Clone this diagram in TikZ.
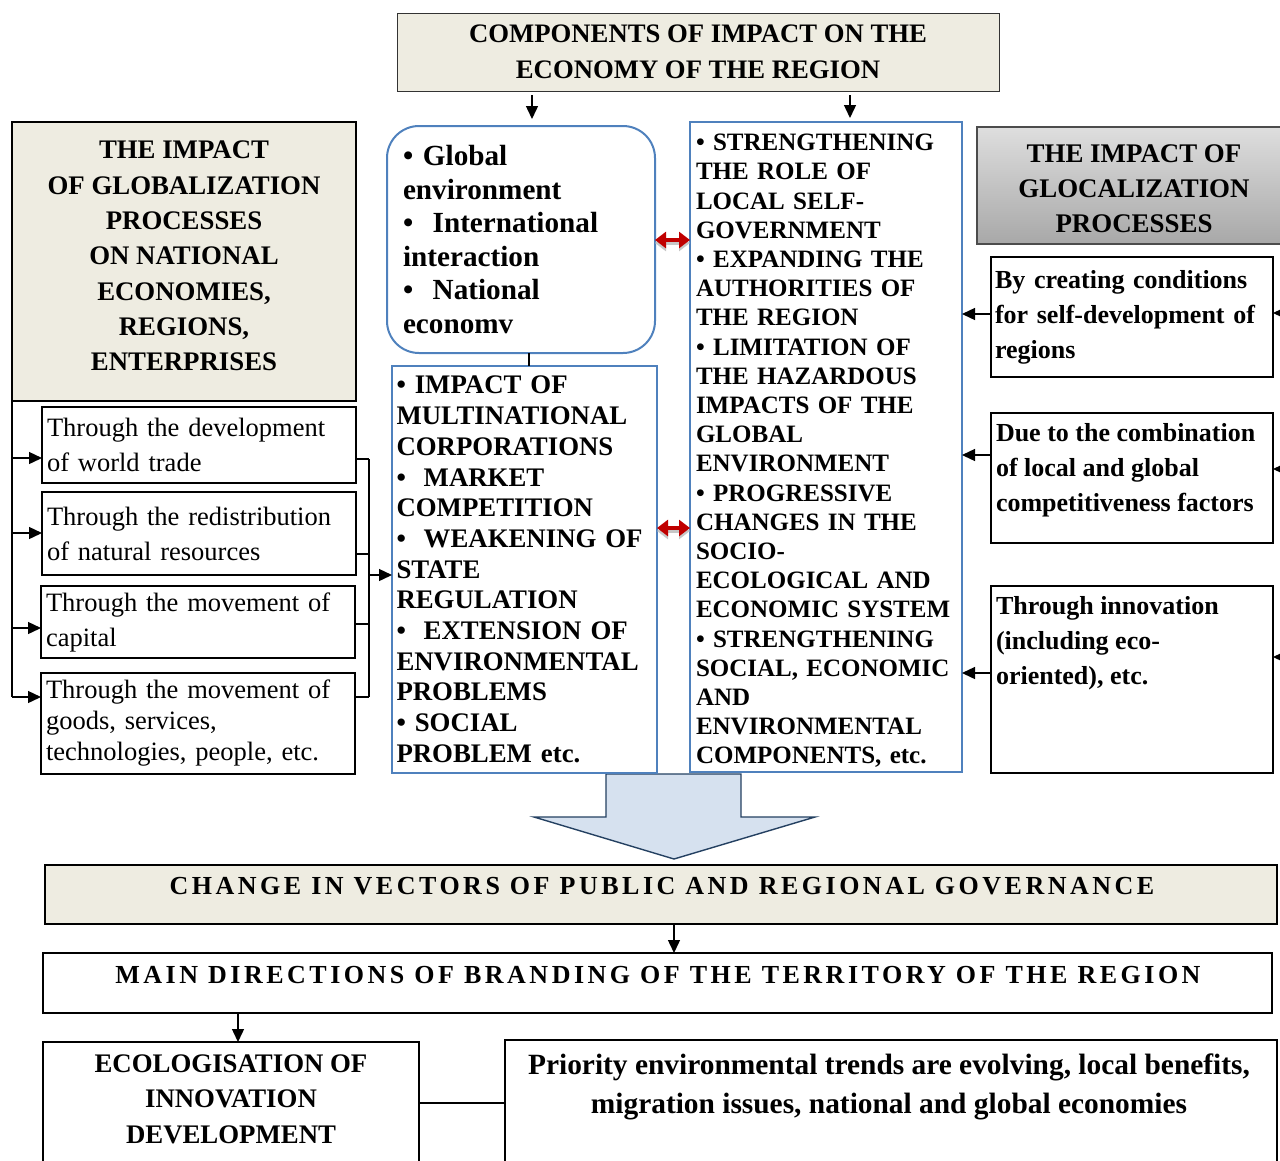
\documentclass[tikz,border=0pt]{standalone}
\usepackage{fontspec}
\setmainfont{Liberation Serif}
\usetikzlibrary{arrows.meta,calc}
\definecolor{beige}{RGB}{238,236,225}
\definecolor{wblue}{RGB}{79,129,189}
\definecolor{dred}{RGB}{192,0,0}
\definecolor{arrfill}{RGB}{214,225,239}
\definecolor{navy}{RGB}{36,64,97}
\definecolor{hdtop}{RGB}{222,222,222}
\definecolor{hdbot}{RGB}{168,168,168}
\begin{document}
\begin{tikzpicture}[x=1pt,y=-1pt,
  every node/.style={inner sep=0pt,outer sep=0pt},
  box/.style={draw=black,line width=1.8pt,rectangle,anchor=north west},
  bbox/.style={draw=wblue,line width=1.8pt,rectangle,anchor=north west},
  lw/.style={line width=1.4pt},
  arr/.style={line width=1.4pt,-{Triangle[length=13pt,width=12pt]}},
  redarr/.style={draw=dred,line width=3.2pt,{Triangle[length=11pt,width=16pt]}-{Triangle[length=11pt,width=16pt]}},
  shadarr/.style={draw=black!22,line width=3.2pt,{Triangle[length=11pt,width=16pt]}-{Triangle[length=11pt,width=16pt]}},
  spaced/.style={font=\bfseries\fontsize{26}{30}\selectfont\addfontfeature{LetterSpace=13.5}}
]
\useasboundingbox (0,0) rectangle (1280,1160);
\clip (0,0) rectangle (1280,1160);

% block arrow
\draw[fill=arrfill,draw=navy,line width=1.4pt,line join=miter]
  (606,774) -- (606,817) -- (534,817) -- (674,859) -- (815,817) -- (741,817) -- (741,774) -- cycle;

% title
\node[box,draw=black!80,line width=1pt,fill=beige,minimum width=602pt,minimum height=78pt,align=center,
  font=\bfseries\fontsize{26.7}{36}\selectfont] (title) at (397,13)
  {COMPONENTS OF IMPACT ON THE\\ECONOMY OF THE REGION};

% left big box
\node[box,line width=2pt,fill=beige,minimum width=344pt,minimum height=279pt] (glob) at (12,122) {};
\node[align=center,font=\bfseries\fontsize{26.8}{35.3}\selectfont] (globt) at (184,256)
  {THE IMPACT\\OF GLOBALIZATION\\PROCESSES\\ON NATIONAL\\ECONOMIES,\\REGIONS,\\ENTERPRISES};

% rounded box
\node[bbox,rounded corners=32pt,line width=2pt,minimum width=268pt,minimum height=227pt,text width=236pt,align=left,
  font=\bfseries\fontsize{29.2}{33.6}\selectfont] (env) at (387,126)
  {• Global\\environment\\•\ \ International\\interaction\\•\ \ National\\economv};

% center-left box
\node[bbox,fill=white,minimum width=265pt,minimum height=407pt,text width=256pt,align=left,
  font=\bfseries\fontsize{26.8}{30.7}\selectfont] (cl) at (392,366)
  {• IMPACT OF\\MULTINATIONAL\\CORPORATIONS\\•\ \ MARKET\\COMPETITION\\•\ \ WEAKENING OF\\STATE\\REGULATION\\•\ \ EXTENSION OF\\ENVIRONMENTAL\\PROBLEMS\\• SOCIAL\\PROBLEM etc.};

% right-center box
\node[bbox,fill=white,minimum width=272pt,minimum height=650pt] (rc) at (690,122) {};
\node[anchor=west,text width=262pt,align=left,
  font=\bfseries\fontsize{25}{29.2}\selectfont] (rct) at (696,451)
  {• STRENGTHENING\\THE ROLE OF\\LOCAL SELF-\\GOVERNMENT\\• EXPANDING THE\\AUTHORITIES OF\\THE REGION\\• LIMITATION OF\\THE HAZARDOUS\\IMPACTS OF THE\\GLOBAL\\ENVIRONMENT\\• PROGRESSIVE\\CHANGES IN THE\\SOCIO-\\ECOLOGICAL AND\\ECONOMIC SYSTEM\\• STRENGTHENING\\SOCIAL, ECONOMIC\\AND\\ENVIRONMENTAL\\COMPONENTS, etc.};

% left sub boxes
\node[box,minimum width=314pt,minimum height=76pt,text width=304pt,align=left,
  font=\fontsize{26.5}{35}\selectfont] (A) at (42,407)
  {Through the development\\of world trade};
\node[box,minimum width=314pt,minimum height=83pt,text width=304pt,align=left,
  font=\fontsize{26.5}{35}\selectfont] (B) at (42,492)
  {Through the redistribution\\of natural resources};
\node[box,minimum width=314pt,minimum height=72pt,text width=304pt,align=left,
  font=\fontsize{26.5}{35}\selectfont] (C) at (41,586)
  {Through the movement of\\capital};
\node[box,minimum width=314pt,minimum height=101pt,text width=304pt,align=left,
  font=\fontsize{26.5}{31}\selectfont] (D) at (41,673)
  {Through the movement of\\goods, services,\\technologies, people, etc.};

% glocalization header
\node[box,draw=black!70,line width=1.2pt,top color=hdtop,bottom color=hdbot,minimum width=314pt,minimum height=117pt] (gloc) at (977,127) {};
\node[align=center,font=\bfseries\fontsize{26.9}{35}\selectfont] (gloct) at (1134,189)
  {THE IMPACT OF\\GLOCALIZATION\\PROCESSES};

% right boxes
\node[box,minimum width=282pt,minimum height=120pt,text width=274pt,align=left,
  font=\bfseries\fontsize{26}{35}\selectfont] (R1) at (991,257)
  {By creating conditions\\for self-development of\\regions};
\node[box,minimum width=282pt,minimum height=130pt] (R2) at (991,413) {};
\node[anchor=north west,align=left,font=\bfseries\fontsize{26}{35}\selectfont] (r2t) at (996,423)
  {Due to the combination\\of local and global\\competitiveness factors};
\node[box,minimum width=282pt,minimum height=187pt] (R3) at (991,586) {};
\node[anchor=north west,align=left,font=\bfseries\fontsize{26}{35}\selectfont] (r3t) at (996,596)
  {Through innovation\\(including eco-\\oriented), etc.};

% change box
\node[box,line width=2.4pt,fill=beige,minimum width=1232pt,minimum height=59pt] (chg) at (45,865) {};
\node[spaced] (chgt) at (662,886) {CHANGE IN VECTORS OF PUBLIC AND REGIONAL GOVERNANCE};

% main box
\node[box,line width=2.4pt,minimum width=1229pt,minimum height=60pt] (mainb) at (43,953) {};
\node[spaced] (maint) at (658,975) {MAIN DIRECTIONS OF BRANDING OF THE TERRITORY OF THE REGION};

% bottom boxes
\node[box,line width=2.2pt,minimum width=376pt,minimum height=160pt] (eco) at (43,1042) {};
\node[align=center,font=\bfseries\fontsize{26.8}{35.5}\selectfont] (ecot) at (231,1099)
  {ECOLOGISATION OF\\INNOVATION\\DEVELOPMENT};
\node[box,line width=2.2pt,minimum width=772pt,minimum height=160pt] (prio) at (505,1040) {};
\node[align=center,font=\bfseries\fontsize{29.4}{39}\selectfont] (priot) at (889,1087)
  {Priority environmental trends are evolving, local benefits,\\migration issues, national and global economies};

% coordinates
\coordinate (xa1) at (532,0);
\coordinate (xa2) at (850,0);
\coordinate (xl) at (529,0);
\coordinate (yr1) at (0,240);
\coordinate (yr2) at (0,528);
\coordinate (ya) at (0,458);
\coordinate (yb) at (0,533);
\coordinate (yc) at (0,628);
\coordinate (yd) at (0,697);
\coordinate (sa) at (0,459);
\coordinate (sb) at (0,554);
\coordinate (sc) at (0,624);
\coordinate (sd) at (0,697);
\coordinate (bx) at (369,575);
\coordinate (y1) at (0,314);
\coordinate (y2) at (0,455);
\coordinate (y3) at (0,673);
\coordinate (e1) at (1300,313);
\coordinate (e2) at (1300,469);
\coordinate (e3) at (1300,657);
\coordinate (xc) at (674,0);
\coordinate (xe) at (238,0);
\coordinate (ye) at (0,1103);

% top arrows
\draw[arr,shorten <=4pt,shorten >=7pt] (title.south -| xa1) -- (env.north -| xa1);
\draw[arr,shorten <=4pt,shorten >=4pt] (title.south -| xa2) -- (rc.north -| xa2);
\draw[line width=1.2pt] (env.south -| xl) -- (cl.north -| xl);

% red double arrows
\draw[shadarr,transform canvas={yshift=-3pt}] (env.east |- yr1) -- (rc.west |- yr1);
\draw[redarr] (env.east |- yr1) -- (rc.west |- yr1);
\draw[shadarr,transform canvas={yshift=-3pt}] (cl.east |- yr2) -- (rc.west |- yr2);
\draw[redarr] (cl.east |- yr2) -- (rc.west |- yr2);

% left bracket
\draw[lw] (glob.south west) -- (glob.south west |- yd);
\draw[arr] (glob.south west |- ya) -- (A.west |- ya);
\draw[arr] (glob.south west |- yb) -- (B.west |- yb);
\draw[arr] (glob.south west |- yc) -- (C.west |- yc);
\draw[arr] (glob.south west |- yd) -- (D.west |- yd);

% right bracket
\draw[lw] (A.east |- sa) -- (bx |- sa);
\draw[lw] (B.east |- sb) -- (bx |- sb);
\draw[lw] (C.east |- sc) -- (bx |- sc);
\draw[lw] (D.east |- sd) -- (bx |- sd);
\draw[lw] (bx |- sa) -- (bx |- sd);
\draw[arr] (bx) -- (cl.west |- bx);

% right column arrows
\draw[arr] (R1.west |- y1) -- (rc.east |- y1);
\draw[arr] (R2.west |- y2) -- (rc.east |- y2);
\draw[arr] (R3.west |- y3) -- (rc.east |- y3);
\draw[arr] (e1) -- (R1.east |- e1);
\draw[arr] (e2) -- (R2.east |- e2);
\draw[arr] (e3) -- (R3.east |- e3);

% bottom arrows
\draw[arr] (chg.south -| xc) -- (mainb.north -| xc);
\draw[arr] (mainb.south -| xe) -- (eco.north -| xe);
\draw[lw] (eco.east |- ye) -- (prio.west |- ye);
\end{tikzpicture}
\end{document}
